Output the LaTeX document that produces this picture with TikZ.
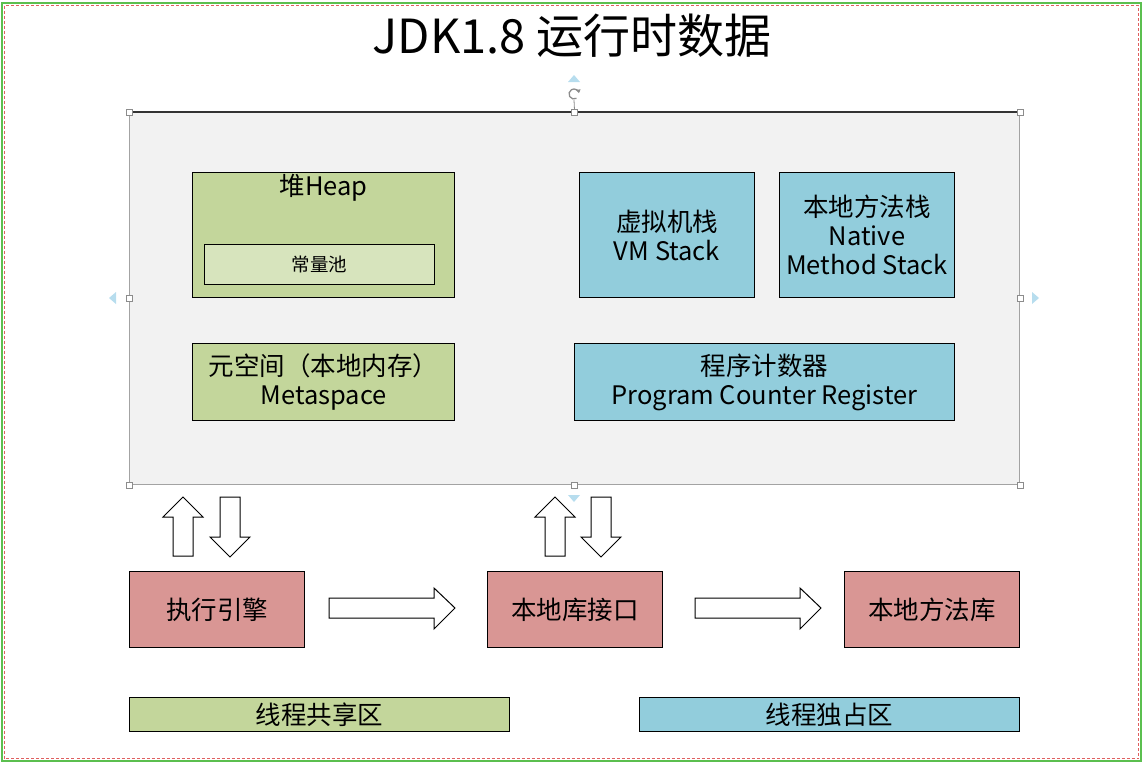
\documentclass[tikz,border=0pt]{standalone}
\usepackage{fontspec}
\setmainfont{Noto Sans CJK SC}
\usetikzlibrary{calc,arrows.meta}
\definecolor{gfill}{HTML}{C3D69B}
\definecolor{glight}{HTML}{D7E4BD}
\definecolor{bfill}{HTML}{92CDDC}
\definecolor{rfill}{HTML}{D99694}
\definecolor{panel}{HTML}{F2F2F2}
\definecolor{frameg}{HTML}{5BBF4F}
\definecolor{framer}{HTML}{E06060}
\definecolor{hint}{HTML}{B7DDEE}
\definecolor{handle}{HTML}{8C8C8C}
\begin{document}
\begin{tikzpicture}[x=1pt,y=-1pt,
  box/.style={draw=black,line width=1pt,rectangle,inner sep=0pt,anchor=north west,align=center,font=\fontsize{25.5}{29}\selectfont},
  hollow/.style={draw=black,line width=1pt,fill=white,line join=miter},
  hnd/.style={draw=handle,fill=white,line width=0.8pt},
  tri/.style={fill=hint,draw=none}]
\useasboundingbox (0,0) rectangle (1144,764);
% outer frame
\draw[frameg,line width=2pt] (2,3) rectangle (1141,761);
\draw[framer,line width=0.6pt,densely dashed] (4.5,5.5) rectangle (1138.5,758.5);
% title
\node[font=\fontsize{47}{52}\selectfont,anchor=center] (title) at (572,36) {JDK1.8 运行时数据};
% panel
\node[draw=handle!80,fill=panel,line width=1.2pt,rectangle,minimum width=890pt,minimum height=372pt,anchor=north west,inner sep=0pt] (panel) at (129,112) {};
\draw[black!80,line width=1.2pt] (panel.north west) -- (panel.north east);
% heap
\node[box,fill=gfill,minimum width=262pt,minimum height=125pt] (heap) at (192,172) {};
\node[font=\fontsize{25.5}{29}\selectfont,anchor=center] (heaplbl) at ($(heap.north)+(0,16)$) {堆Heap};
\node[box,fill=glight,minimum width=230pt,minimum height=40pt,font=\fontsize{18.5}{22}\selectfont] (pool) at (204,244) {常量池};
% metaspace
\node[box,fill=gfill,minimum width=262pt,minimum height=77pt] (meta) at (192,343) {元空间（本地内存）\\Metaspace};
% stacks
\node[box,fill=bfill,minimum width=175pt,minimum height=125pt] (vms) at (579,172) {虚拟机栈\\VM Stack};
\node[box,fill=bfill,minimum width=175pt,minimum height=125pt] (nms) at (779,172) {本地方法栈\\Native\\Method Stack};
\node[box,fill=bfill,minimum width=380pt,minimum height=77pt] (pcr) at (574,343) {程序计数器\\Program Counter Register};
% bottom row
\node[box,fill=rfill,minimum width=175pt,minimum height=76pt] (exec) at (129,571) {执行引擎};
\node[box,fill=rfill,minimum width=175pt,minimum height=76pt] (nif) at (487,571) {本地库接口};
\node[box,fill=rfill,minimum width=175pt,minimum height=76pt] (nlib) at (844,571) {本地方法库};
% legend
\node[box,fill=gfill,minimum width=380pt,minimum height=34pt] (shared) at (129,697) {线程共享区};
\node[box,fill=bfill,minimum width=380pt,minimum height=34pt] (priv) at (639,697) {线程独占区};
% hollow arrows: right
\draw[hollow] (329,598) -- (434,598) -- (434,588) -- (455,608) -- (434,629) -- (434,618) -- (329,618) -- cycle;
\draw[hollow] (695,598) -- (800,598) -- (800,588) -- (821,608) -- (800,629) -- (800,618) -- (695,618) -- cycle;
% up/down pairs
\draw[hollow] (183,497) -- (203,517) -- (193,517) -- (193,556) -- (173,556) -- (173,517) -- (163,517) -- cycle;
\draw[hollow] (220,497) -- (240,497) -- (240,537) -- (250,537) -- (230,557) -- (210,537) -- (220,537) -- cycle;
\draw[hollow] (555,497) -- (575,517) -- (565,517) -- (565,556) -- (545,556) -- (545,517) -- (535,517) -- cycle;
\draw[hollow] (591,497) -- (611,497) -- (611,537) -- (621,537) -- (601,557) -- (581,537) -- (591,537) -- cycle;
% selection handles
\draw[handle,line width=0.8pt] (574,100) -- (panel.north);
\coordinate (rot) at (574,94);
\draw[handle,line width=1.3pt,-{Triangle[length=3.5pt,width=4.5pt]}] ($(rot)+(60:5)$) arc[start angle=60,end angle=350,radius=5];
\foreach \p in {north west,north,north east,west,east,south west,south,south east}
  \draw[hnd] ($(panel.\p)+(-3,-3)$) rectangle ($(panel.\p)+(3,3)$);
\fill[tri] (568,82) -- (580,82) -- (574,75) -- cycle;
\fill[tri] (116,292) -- (116,304) -- (109,298) -- cycle;
\fill[tri] (1032,292) -- (1032,304) -- (1039,298) -- cycle;
\fill[tri] (568,495) -- (580,495) -- (574,502) -- cycle;
\end{tikzpicture}
\end{document}
